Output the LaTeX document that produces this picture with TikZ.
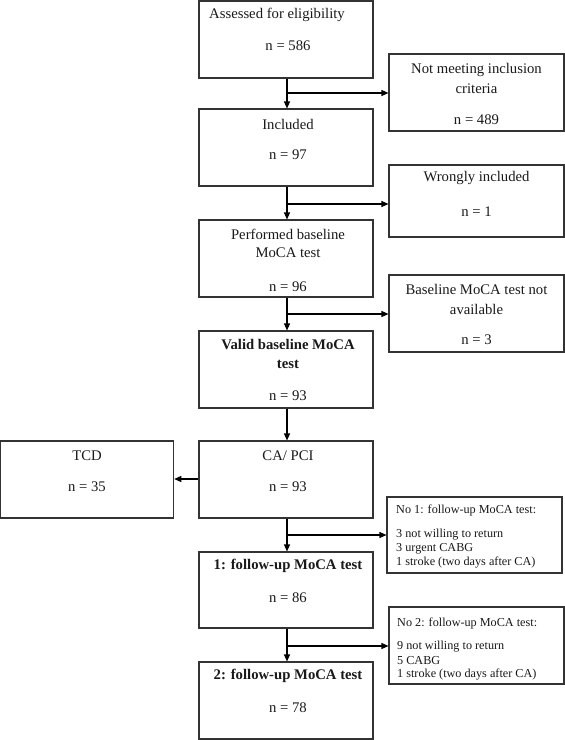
\documentclass[tikz,border=0pt]{standalone}
\usepackage{fontspec}
\setmainfont{Liberation Serif}
\usetikzlibrary{arrows.meta}
\begin{document}
\begin{tikzpicture}[x=1pt,y=-1pt,
  box/.style={draw=black!80, line width=1.1pt, inner sep=0pt, rectangle},
  big/.style={inner sep=0pt, font=\fontsize{14.7}{19.5}\selectfont, align=center, text=black!90},
  bigb/.style={big, font=\fontsize{14.7}{19.5}\selectfont\bfseries},
  small/.style={inner sep=0pt, font=\fontsize{12.2}{14}\selectfont, align=left, anchor=west, text=black!90},
  arr/.style={-{Triangle[length=7pt,width=6pt]}, line width=1.1pt, black}]
\useasboundingbox (0,0) rectangle (565,740);

% main column boxes
\node[box, minimum width=174pt, minimum height=77pt] (b1) at (286,39.5) {};
\node[box, minimum width=174pt, minimum height=77pt] (b2) at (286,147.5) {};
\node[box, minimum width=174pt, minimum height=77pt] (b3) at (286,258.5) {};
\node[box, minimum width=174pt, minimum height=77pt] (b4) at (286,369.5) {};
\node[box, minimum width=174pt, minimum height=77pt] (b5) at (286,479.5) {};
\node[box, minimum width=174pt, minimum height=76pt] (b6) at (286,590) {};
\node[box, minimum width=174pt, minimum height=77pt] (b7) at (286,700.5) {};
% side boxes
\node[box, minimum width=173pt, minimum height=77pt] (tcd) at (87.2,479.5) {};
\node[box, minimum width=175pt, minimum height=77pt] (r1) at (476.5,92.5) {};
\node[box, minimum width=175pt, minimum height=72pt] (r2) at (476.5,201) {};
\node[box, minimum width=175pt, minimum height=77pt] (r3) at (476.5,313.5) {};
\node[box, minimum width=175pt, minimum height=76pt] (r4) at (474.5,535) {};
\node[box, minimum width=175pt, minimum height=77pt] (r5) at (476.5,645.5) {};

% texts
\node[big] (t1a) at (277,15) {Assessed for eligibility};
\node[big] (t1b) at (288,46) {n = 586};
\node[big] (t2a) at (288,124) {Included};
\node[big] (t2b) at (288,155) {n = 97};
\node[big] (t3a) at (288,234) {Performed baseline};
\node[big] (t3b) at (288,253) {MoCA test};
\node[big] (t3c) at (288,287) {n = 96};
\node[bigb] (t4a) at (288,345) {Valid baseline MoCA};
\node[bigb] (t4b) at (288,364) {test};
\node[big] (t4c) at (288,396) {n = 93};
\node[big] (t5a) at (288,456) {CA/ PCI};
\node[big] (t5b) at (288,487) {n = 93};
\node[big] (tca) at (87,456) {TCD};
\node[big] (tcb) at (87,487) {n = 35};
\node[bigb] (t6a) at (288,566) {1: follow-up MoCA test};
\node[big] (t6b) at (288,598) {n = 86};
\node[bigb] (t7a) at (288,676) {2: follow-up MoCA test};
\node[big] (t7b) at (288,708) {n = 78};

\node[big] (r1a) at (476.5,70) {Not meeting inclusion};
\node[big] (r1b) at (476.5,89) {criteria};
\node[big] (r1c) at (476.5,120) {n = 489};
\node[big] (r2a) at (476.5,178) {Wrongly included};
\node[big] (r2b) at (476.5,212) {n = 1};
\node[big] (r3a) at (476.5,289) {Baseline MoCA test not};
\node[big] (r3b) at (476.5,309) {available};
\node[big] (r3c) at (476.5,340) {n = 3};

\node[small] (r4a) at (396,510) {No 1: follow-up MoCA test:};
\node[small] (r4b) at (396,535) {3 not willing to return};
\node[small] (r4c) at (396,549) {3 urgent CABG};
\node[small] (r4d) at (396,563) {1 stroke (two days after CA)};
\node[small] (r5a) at (397,623) {No 2: follow-up MoCA test:};
\node[small] (r5b) at (397,647) {9 not willing to return};
\node[small] (r5c) at (397,661) {5 CABG};
\node[small] (r5d) at (397,675) {1 stroke (two days after CA)};

% connectors
\coordinate (j1) at (287,93);
\coordinate (j2) at (287,204);
\coordinate (j3) at (287,314);
\coordinate (j5) at (287,535);
\coordinate (j6) at (287,646);

\draw[arr] (b1.south -| j1) -- (b2.north -| j1);
\draw[arr] (j1) -- (j1 -| r1.west);
\draw[arr] (b2.south -| j2) -- (b3.north -| j2);
\draw[arr] (j2) -- (j2 -| r2.west);
\draw[arr] (b3.south -| j3) -- (b4.north -| j3);
\draw[arr] (j3) -- (j3 -| r3.west);
\draw[arr] (b4.south -| j3) -- (b5.north -| j3);
\draw[arr] (b5.west |- 0,479) -- (tcd.east |- 0,479);
\draw[arr] (b5.south -| j5) -- (b6.north -| j5);
\draw[arr] (j5) -- (j5 -| r4.west);
\draw[arr] (b6.south -| j6) -- (b7.north -| j6);
\draw[arr] (j6) -- (j6 -| r5.west);
\end{tikzpicture}
\end{document}
